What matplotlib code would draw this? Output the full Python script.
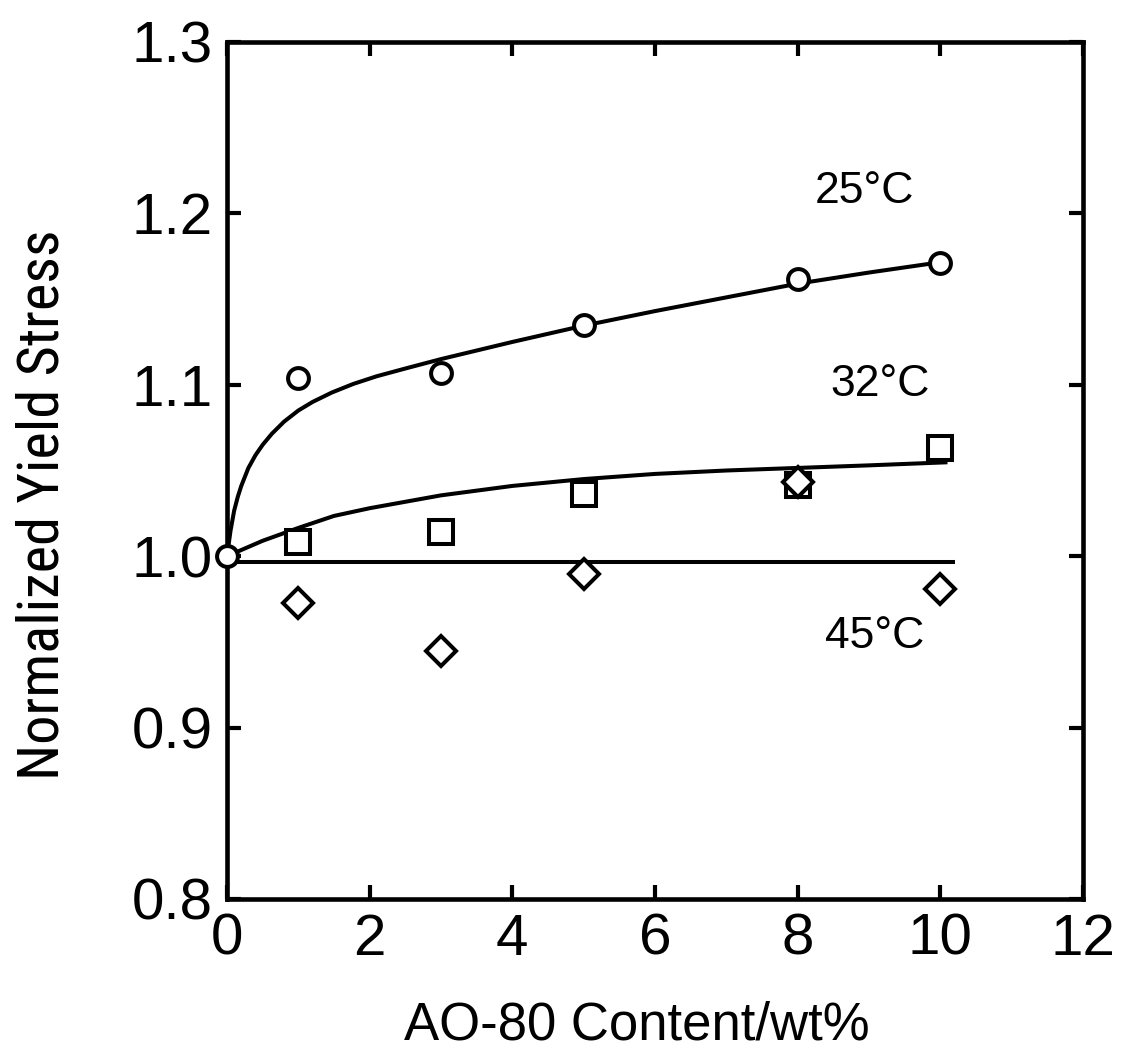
import matplotlib
matplotlib.use("Agg")
import matplotlib.pyplot as plt
from matplotlib import font_manager as fm

# ---- data ----
x_pts = [0, 1, 3, 5, 8, 10]
y_25 = [1.0, 1.104, 1.107, 1.135, 1.162, 1.171]
x_sq = [1, 3, 5, 8, 10]
y_32 = [1.0083, 1.0141, 1.0363, 1.0415, 1.0631]
x_di = [1, 3, 5, 8, 10]
y_45 = [0.9727, 0.9447, 0.9896, 1.0433, 0.9808]

# fitted curves
fit25_x = [0, 0.05, 0.1, 0.15, 0.2, 0.3, 0.4, 0.5, 0.63, 0.8, 1.0, 1.2, 1.47, 1.77, 2.1, 2.5,
           3.0, 3.5, 4.0, 5.0, 6.0, 7.0, 8.0, 9.0, 10.0]
fit25_y = [1.0, 1.0150, 1.0265, 1.0345, 1.041, 1.0515, 1.0590, 1.0650, 1.0715, 1.0785, 1.0850,
           1.0900, 1.0955, 1.1005, 1.1050, 1.1095, 1.1150, 1.1200, 1.1250, 1.1345, 1.1430,
           1.1510, 1.1590, 1.1655, 1.1715]
fit32_x = [0, 0.5, 1.0, 1.5, 2.0, 3.0, 4.0, 5.0, 6.0, 7.0, 8.0, 9.0, 10.1]
fit32_y = [1.0, 1.009, 1.0165, 1.0235, 1.028, 1.0355, 1.041, 1.045, 1.048, 1.050, 1.0515, 1.053, 1.0548]
fit45_x = [0, 10.2]
fit45_y = [0.9965, 0.9965]

labels = ["25°C", "32°C", "45°C"]
label_pos = [(8.94, 1.2125), (9.15, 1.100), (9.08, 0.9529)]

xticks = [0, 2, 4, 6, 8, 10, 12]
yticks = [0.8, 0.9, 1.0, 1.1, 1.2, 1.3]

plt.rcParams['font.family'] = ['Liberation Sans', 'DejaVu Sans']

# find a condensed sans font for the y label, if one is installed
narrow_fp = None
pref = ['Liberation Sans Narrow', 'Arial Narrow', 'Roboto Condensed', 'Archivo Narrow', 'Barlow Condensed']
for p in pref:
    for f in fm.fontManager.ttflist:
        if f.name == p and f.style == 'normal':
            narrow_fp = fm.FontProperties(fname=f.fname)
            break
    if narrow_fp is not None:
        break

fig = plt.figure(figsize=(11.36, 10.51), dpi=100)
ax = fig.add_axes([227/1136, 1-899/1051, (1083-227)/1136, (899-42)/1051])

lw = 2.9
ax.plot(fit25_x, fit25_y, color='black', lw=lw, solid_capstyle='butt', solid_joinstyle='round', zorder=2)
ax.plot(fit32_x, fit32_y, color='black', lw=lw, solid_capstyle='butt', solid_joinstyle='round', zorder=2)
ax.plot(fit45_x, fit45_y, color='black', lw=lw, solid_capstyle='butt', zorder=2)

mew = 2.9
ax.plot(x_sq, y_32, ls='none', marker='s', ms=17, mfc='white', mec='black', mew=mew, zorder=3)
ax.plot(x_di, y_45, ls='none', marker='D', ms=15, mfc='white', mec='black', mew=mew, zorder=4)
ax.plot(x_pts, y_25, ls='none', marker='o', ms=15, mfc='white', mec='black', mew=mew, zorder=5, clip_on=False)

for t, (tx, ty) in zip(labels, label_pos):
    ax.text(tx, ty, t, fontsize=32, ha='center', va='center')

ax.set_xlim(0, 12)
ax.set_ylim(0.8, 1.3)
ax.set_xticks(xticks)
ax.set_xticklabels([str(v) for v in xticks])
ax.set_yticks(yticks)
ax.set_yticklabels([f"{v:.1f}" for v in yticks])

for s in ax.spines.values():
    s.set_linewidth(3.3)
ax.tick_params(direction='in', length=10, width=3, top=True, right=True,
               labelsize=42, pad=10)

ax.set_xlabel("AO-80 Content/wt%", fontsize=38)
ax.xaxis.set_label_coords(0.479, -0.119)

if narrow_fp is not None:
    narrow_fp.set_size(42)
    ax.set_ylabel("Normalized Yield Stress", fontproperties=narrow_fp)
else:
    ax.set_ylabel("Normalized Yield Stress", fontsize=38)
ax.yaxis.set_label_coords(-0.183, 0.46)

fig.savefig("out.png", dpi=100)
